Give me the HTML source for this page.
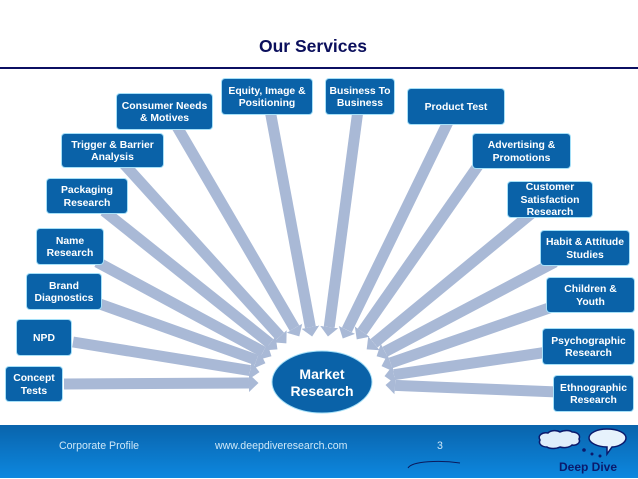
<!DOCTYPE html>
<html><head><meta charset="utf-8"><style>
html,body{margin:0;padding:0;background:#fff}
#p{position:relative;width:638px;height:479px;overflow:hidden;background:#fff;font-family:"Liberation Sans",sans-serif}
.b{position:absolute;box-sizing:border-box;background:#0a62a8;border-radius:3px;box-shadow:0 0 0 1px #a5e0f8;color:#fff;font-weight:bold;font-size:10.4px;line-height:12.5px;text-align:center;white-space:nowrap;display:flex;align-items:center;justify-content:center;padding-top:3px}
.f{position:absolute;color:#cfe8f8;font-size:10.6px;top:439px;line-height:14px;white-space:nowrap}
svg{position:absolute;left:0;top:0}
</style></head><body><div id="p">
<div style="position:absolute;left:0;top:425px;width:638px;height:54px;background:linear-gradient(#0a64ac,#0c88e0)"></div>
<div style="position:absolute;left:0;top:477.500px;width:638px;height:1.5px;background:#fff"></div>
<div style="position:absolute;left:0;top:67px;width:638px;height:2px;background:#0b0f62"></div>
<div style="position:absolute;left:240px;width:146px;top:36px;text-align:center;font-weight:bold;font-size:17.5px;line-height:20px;color:#0b0f5c">Our Services</div>
<svg width="638" height="479" viewBox="0 0 638 479">
<defs><marker id="a" markerUnits="userSpaceOnUse" markerWidth="12" markerHeight="20" refX="0" refY="10" orient="auto"><path d="M0 1L9.500 10L0 19Z" fill="#a9b9d6"/></marker></defs>
<g stroke="#a9b9d6" stroke-width="11" fill="none">
<line x1="64" y1="384" x2="249" y2="383" marker-end="url(#a)"/>
<line x1="73" y1="342" x2="250.100" y2="370.600" marker-end="url(#a)"/>
<line x1="97" y1="303" x2="256.500" y2="360" marker-end="url(#a)"/>
<line x1="97" y1="262" x2="263.100" y2="351.700" marker-end="url(#a)"/>
<line x1="104" y1="211" x2="270" y2="343.400" marker-end="url(#a)"/>
<line x1="124" y1="164" x2="280" y2="336.300" marker-end="url(#a)"/>
<line x1="176" y1="125" x2="294.500" y2="328.200" marker-end="url(#a)"/>
<line x1="270" y1="110" x2="310.400" y2="327.200" marker-end="url(#a)"/>
<line x1="358" y1="110" x2="329.200" y2="327.100" marker-end="url(#a)"/>
<line x1="449" y1="120" x2="346.900" y2="329.900" marker-end="url(#a)"/>
<line x1="480" y1="163" x2="362.200" y2="331.600" marker-end="url(#a)"/>
<line x1="532" y1="213" x2="374" y2="343.300" marker-end="url(#a)"/>
<line x1="555" y1="262" x2="385" y2="351.800" marker-end="url(#a)"/>
<line x1="552" y1="307" x2="390.500" y2="363" marker-end="url(#a)"/>
<line x1="548" y1="352" x2="393.900" y2="374.700" marker-end="url(#a)"/>
<line x1="558" y1="392" x2="395" y2="385.400" marker-end="url(#a)"/>
</g>
<ellipse cx="322" cy="382" rx="50" ry="31" fill="#0a62a8" stroke="#a5e0f8" stroke-width="1"/>
<text x="322" y="379" text-anchor="middle" font-family="Liberation Sans" font-weight="bold" font-size="14" fill="#fff">Market</text>
<text x="322" y="396" text-anchor="middle" font-family="Liberation Sans" font-weight="bold" font-size="14" fill="#fff">Research</text>
<path d="M408 468C412 461 440 460 460 463" stroke="#0b1a5c" fill="none" stroke-width="1"/>
<path d="M540 440c-3-5 3-8 8-7 3-3 9-3 12-1 4-2 10-2 12 0 5 0 9 3 7 7 2 4-3 7-7 6-3 3-9 3-12 2-4 2-10 2-13 0-5 0-9-3-7-7Z" fill="#dfeefb" stroke="#0b1a6c" stroke-width="1.500"/>
<path d="M607 429c11 0 19 4 19 9 0 5-8 9-14 9l-5 7 0-7c-9 0-18-4-18-9s8-9 18-9Z" fill="#e6f2fc" stroke="#0b1a6c" stroke-width="1.500"/>
<circle cx="584" cy="450" r="1.800" fill="#0b1a6c"/><circle cx="592" cy="454" r="1.500" fill="#0b1a6c"/><circle cx="600" cy="456" r="1.500" fill="#0b1a6c"/>
<text x="588" y="471" text-anchor="middle" font-family="Liberation Sans" font-weight="bold" font-size="12" fill="#0b1a6c">Deep Dive</text>
</svg>
<div class="b" style="left:117px;top:94px;width:95px;height:35px">Consumer Needs<br>&amp; Motives</div>
<div class="b" style="left:222px;top:79px;width:90px;height:35px">Equity, Image &amp;<br>Positioning</div>
<div class="b" style="left:62px;top:134px;width:101px;height:33px">Trigger &amp; Barrier<br>Analysis</div>
<div class="b" style="left:47px;top:179px;width:80px;height:34px">Packaging<br>Research</div>
<div class="b" style="left:37px;top:229px;width:66px;height:35px">Name<br>Research</div>
<div class="b" style="left:27px;top:274px;width:74px;height:35px">Brand<br>Diagnostics</div>
<div class="b" style="left:17px;top:320px;width:54px;height:35px">NPD</div>
<div class="b" style="left:6px;top:367px;width:56px;height:34px">Concept<br>Tests</div>
<div class="b" style="left:326px;top:79px;width:68px;height:35px">Business To<br>Business</div>
<div class="b" style="left:408px;top:89px;width:96px;height:35px">Product Test</div>
<div class="b" style="left:473px;top:134px;width:97px;height:34px">Advertising &amp;<br>Promotions</div>
<div class="b" style="left:508px;top:182px;width:84px;height:35px">Customer<br>Satisfaction<br>Research</div>
<div class="b" style="left:541px;top:231px;width:88px;height:34px">Habit &amp; Attitude<br>Studies</div>
<div class="b" style="left:547px;top:278px;width:87px;height:34px">Children &amp;<br>Youth</div>
<div class="b" style="left:543px;top:329px;width:91px;height:35px">Psychographic<br>Research</div>
<div class="b" style="left:554px;top:376px;width:79px;height:35px">Ethnographic<br>Research</div>
<div class="f" style="left:59px">Corporate Profile</div>
<div class="f" style="left:215px">www.deepdiveresearch.com</div>
<div class="f" style="left:437px">3</div>
</div></body></html>
